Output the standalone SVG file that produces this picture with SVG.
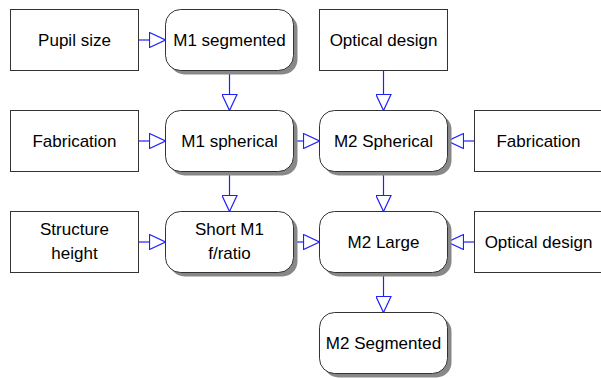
<svg xmlns="http://www.w3.org/2000/svg" width="601" height="378" viewBox="0 0 601 378">
<style>
.box{fill:#fff;stroke:#333;stroke-width:1}
.shadow{fill:#888;stroke:none}
.t{font-family:"Liberation Sans",Arial,sans-serif;font-size:17px;fill:#000;text-anchor:middle}
.c{fill:none;stroke:#2020ff;stroke-width:1.2;marker-end:url(#tri)}
</style>
<defs>
<marker id="tri" viewBox="0 0 17 16" markerWidth="17" markerHeight="16" refX="16.5" refY="8" orient="auto" markerUnits="userSpaceOnUse">
<path d="M0.5,0.5 L16.5,8 L0.5,15.5 Z" fill="#fff" stroke="#2020ff" stroke-width="1.2"/>
</marker>
</defs>
<rect width="601" height="378" fill="#fff"/>
<g id="connectors">
<path class="c" d="M138.5,40 H165.5"/>
<path class="c" d="M138.5,141 H165.5"/>
<path class="c" d="M138.5,242 H165.5"/>
<path class="c" d="M229.5,70.5 V110.5"/>
<path class="c" d="M229.5,171.5 V211.5"/>
<path class="c" d="M293.5,141 H319.5"/>
<path class="c" d="M293.5,242 H319.5"/>
<path class="c" d="M383.5,70.5 V110.5"/>
<path class="c" d="M474.5,141 H447.5"/>
<path class="c" d="M383.5,171.5 V211.5"/>
<path class="c" d="M474.5,242 H447.5"/>
<path class="c" d="M383.5,272.5 V312.5"/>
</g>
<g id="pupil-size">
<rect class="box" x="10.5" y="9.5" width="128" height="61"/>
<text class="t" x="74.5" y="46">Pupil size</text>
</g>
<g id="m1-segmented">
<rect class="shadow" x="169.5" y="13.5" width="128" height="61" rx="15"/>
<rect class="box" x="165.5" y="9.5" width="128" height="61" rx="15"/>
<text class="t" x="229.5" y="46">M1 segmented</text>
</g>
<g id="optical-design-top">
<rect class="box" x="319.5" y="9.5" width="128" height="61"/>
<text class="t" x="383.5" y="46">Optical design</text>
</g>
<g id="fabrication-left">
<rect class="box" x="10.5" y="110.5" width="128" height="61"/>
<text class="t" x="74.5" y="147">Fabrication</text>
</g>
<g id="m1-spherical">
<rect class="shadow" x="169.5" y="114.5" width="128" height="61" rx="15"/>
<rect class="box" x="165.5" y="110.5" width="128" height="61" rx="15"/>
<text class="t" x="229.5" y="147">M1 spherical</text>
</g>
<g id="m2-spherical">
<rect class="shadow" x="323.5" y="114.5" width="128" height="61" rx="15"/>
<rect class="box" x="319.5" y="110.5" width="128" height="61" rx="15"/>
<text class="t" x="383.5" y="147">M2 Spherical</text>
</g>
<g id="fabrication-right">
<rect class="box" x="474.5" y="110.5" width="128" height="61"/>
<text class="t" x="538.5" y="147">Fabrication</text>
</g>
<g id="structure-height">
<rect class="box" x="10.5" y="211.5" width="128" height="61"/>
<text class="t" x="74.5" y="235">Structure</text>
<text class="t" x="74.5" y="259">height</text>
</g>
<g id="short-m1">
<rect class="shadow" x="169.5" y="215.5" width="128" height="61" rx="15"/>
<rect class="box" x="165.5" y="211.5" width="128" height="61" rx="15"/>
<text class="t" x="229.5" y="235">Short M1</text>
<text class="t" x="229.5" y="259">f/ratio</text>
</g>
<g id="m2-large">
<rect class="shadow" x="323.5" y="215.5" width="128" height="61" rx="15"/>
<rect class="box" x="319.5" y="211.5" width="128" height="61" rx="15"/>
<text class="t" x="383.5" y="248">M2 Large</text>
</g>
<g id="optical-design-right">
<rect class="box" x="474.5" y="211.5" width="128" height="61"/>
<text class="t" x="538.5" y="248">Optical design</text>
</g>
<g id="m2-segmented">
<rect class="shadow" x="323.5" y="316.5" width="128" height="61" rx="15"/>
<rect class="box" x="319.5" y="312.5" width="128" height="61" rx="15"/>
<text class="t" x="383.5" y="349">M2 Segmented</text>
</g>
</svg>
